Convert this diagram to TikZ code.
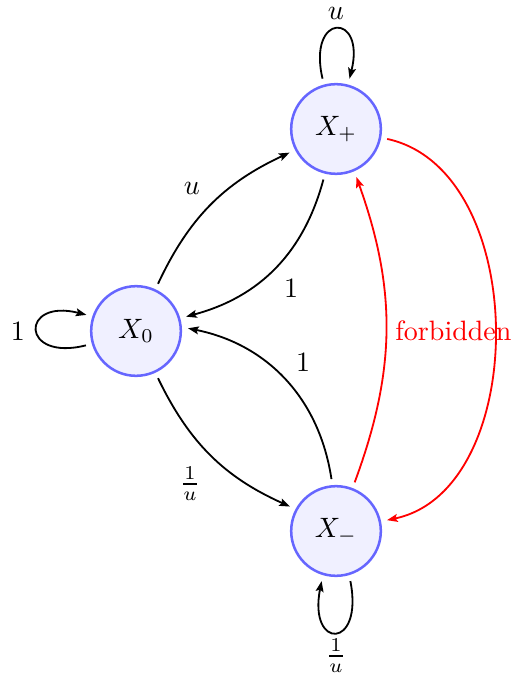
\documentclass[tikz,border=0pt]{standalone}
\usetikzlibrary{arrows.meta}
\begin{document}
\begin{tikzpicture}[x=0.357pt,y=0.357pt,
 state/.style={circle,draw=blue!60,fill=blue!6,line width=0.9pt,minimum size=32pt,inner sep=0pt,outer sep=2.6pt},
 edge/.style={-{Stealth[length=3.8pt,width=2.8pt,inset=0.7pt]},line width=0.65pt},
 lbl/.style={inner sep=1pt}]
\path[use as bounding box] (0,0) rectangle (511,-679);
\node[state] (X0) at (136,-331) {$X_0$};
\node[state] (Xp) at (336,-129) {$X_+$};
\node[state] (Xm) at (336,-531) {$X_-$};
\draw[edge] (X0.65) to[bend left=20] (Xp.207);
\draw[edge] (Xp.256) to[bend left=30] (X0.16);
\draw[edge] (Xm.95) to[bend right=35] (X0.3);
\draw[edge] (X0.295) to[bend right=20] (Xm.152);
\draw[edge,red] (Xm.69) to[bend right=20] (Xp.293);
\draw[edge,red] (Xp.-11) .. controls (531,-170) and (531,-490) .. (Xm.12);
\draw[edge] (Xp.105) .. controls (307,-12) and (366,-12) .. (Xp.75);
\draw[edge] (X0.196) .. controls (20,-362) and (20,-298) .. (X0.162);
\draw[edge] (Xm.286) .. controls (364,-650) and (308,-650) .. (Xm.254);
\node[lbl] (l1) at (192,-188) {$u$};
\node[lbl] (l2) at (291,-288) {$1$};
\node[lbl] (l3) at (303,-362) {$1$};
\node[lbl] (l4) at (190,-484) {$\frac{1}{u}$};
\node[lbl,red,anchor=west] (l5) at (392,-331) {forbidden};
\node[lbl] (l6) at (336,-13) {$u$};
\node[lbl] (l7) at (18,-331) {$1$};
\node[lbl] (l8) at (336,-656) {$\frac{1}{u}$};
\end{tikzpicture}
\end{document}
